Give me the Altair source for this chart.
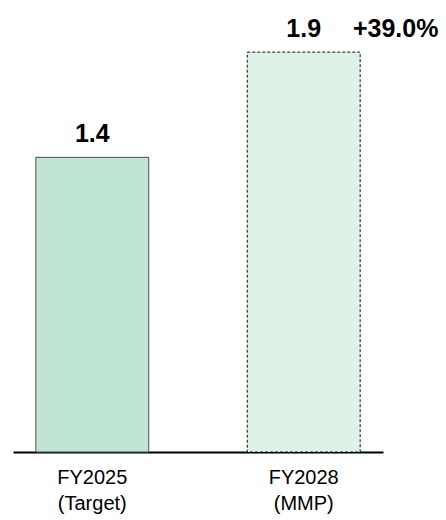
import altair as alt
import pandas as pd

# Bar data
categories = ["FY2025\n(Target)", "FY2028\n(MMP)"]
values = [1.4, 1.9]
value_labels = ["1.4", "1.9"]
kinds = ["target", "plan"]
growth_label = ["+39.0%"]

df = pd.DataFrame({
    "category": categories,
    "value": values,
    "label": value_labels,
    "kind": kinds,
})
growth_df = pd.DataFrame({
    "category": [categories[1]],
    "value": [values[1]],
    "label": growth_label,
})

FONT = "Liberation Sans"

x_enc = alt.X(
    "category:N",
    sort=categories,
    scale=alt.Scale(paddingInner=0.466, paddingOuter=0.108),
    axis=alt.Axis(
        title=None,
        labelAngle=0,
        labelExpr="split(datum.label, '\\n')",
        ticks=False,
        domainColor="black",
        domainWidth=2,
        labelFontSize=20,
        labelFont=FONT,
        labelColor="black",
        labelPadding=15,
        labelLineHeight=26,
    ),
)
y_enc = alt.Y("value:Q", scale=alt.Scale(domain=[0, 2.1], nice=False), axis=None)

base = alt.Chart(df).encode(x=x_enc, y=y_enc)

target_bar = base.transform_filter(alt.datum.kind == "target").mark_bar(
    fill="#c0e6d3", stroke="#4d4d4d", strokeWidth=1
)
plan_bar = base.transform_filter(alt.datum.kind == "plan").mark_bar(
    fill="#def3e8", stroke="#111111", strokeWidth=1, strokeDash=[3, 2]
)

value_text = base.mark_text(
    baseline="alphabetic", dy=-15, fontSize=25, fontWeight="bold", font=FONT, color="black"
).encode(text="label:N")

growth_text = alt.Chart(growth_df).mark_text(
    baseline="alphabetic", dy=-15, dx=92, fontSize=25, fontWeight="bold", font=FONT, color="black"
).encode(x=alt.X("category:N", sort=categories), y="value:Q", text="label:N")

chart = (
    alt.layer(target_bar, plan_bar, value_text, growth_text)
    .properties(
        width=370,
        height=442,
        padding={"left": 13, "top": 10, "right": 63, "bottom": 68},
        autosize=alt.AutoSizeParams(type="none"),
    )
    .configure_view(stroke=None)
)

chart.save("out.html", embed_options={"renderer": "svg", "actions": False})
